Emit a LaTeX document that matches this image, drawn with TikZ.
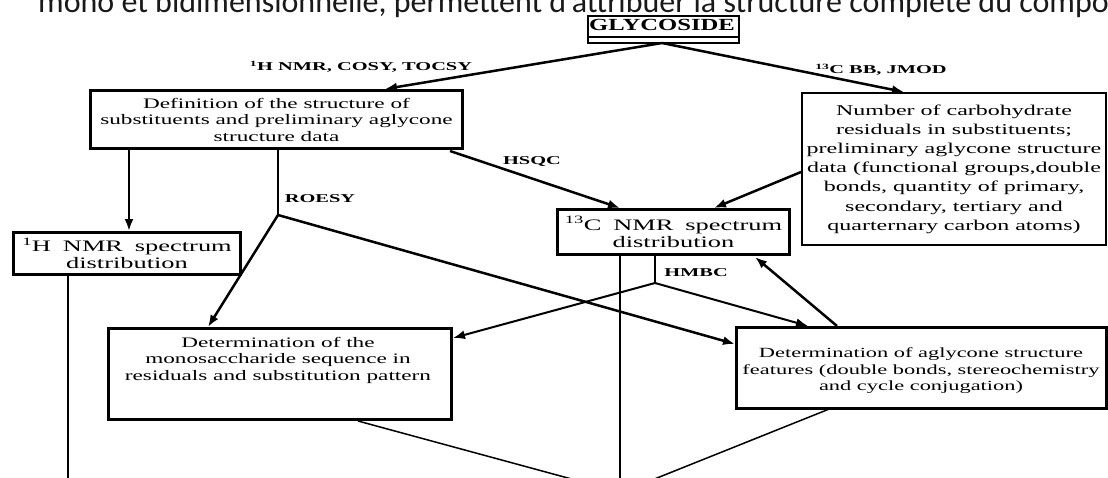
\documentclass[tikz,border=0pt]{standalone}
\usepackage{fontspec}
\setmainfont{Liberation Serif}
\newfontfamily\df[FakeStretch=1.6]{Liberation Serif}
\newfontfamily\dfc[FakeStretch=1.65,WordSpace=1.8]{Liberation Serif}
\newfontfamily\dfb[FakeStretch=1.7]{Liberation Serif}
\newfontfamily\gfont[FakeStretch=1.45]{Liberation Serif}
\newfontfamily\topfont{Carlito}
\usetikzlibrary{arrows.meta,calc}
\tikzset{
  box/.style={draw, line width=3pt, inner sep=0pt, anchor=north west},
  txt/.style={font=\df\fontsize{14.5}{16.5}\selectfont, align=center},
  txta/.style={font=\df\fontsize{14}{16.5}\selectfont, align=center},
  txtb/.style={font=\df\fontsize{15}{19.2}\selectfont, align=center},
  txtc/.style={font=\dfc\fontsize{16}{17}\selectfont, align=center},
  lab/.style={font=\dfb\bfseries\fontsize{12}{14}\selectfont, inner sep=0pt},
  arr/.style={line width=2.5pt, -{Latex[length=12pt,width=9pt]}},
  ln/.style={line width=2.5pt},
  thin/.style={line width=1.5pt, -{Latex[length=8pt,width=6pt]}}
}
\begin{document}
\begin{tikzpicture}[x=1pt,y=-1pt]
\useasboundingbox (0,0) rectangle (1108,477);
\clip (0,0) rectangle (1108,477);
\fill[white] (0,0) rectangle (1108,477);

% cut-off text line at the top
\node[anchor=base west, font=\topfont\fontsize{32}{32}\selectfont, inner sep=0pt, text=black!90] (toptext) at (38,12)
  {mono et bidimensionnelle, permettent d’attribuer la structure complète du composé};

% GLYCOSIDE
\node[box, fill=white, line width=2pt, minimum width=151pt, minimum height=27pt] (gly) at (587,15) {};
\node[font=\gfont\bfseries\fontsize{17}{17}\selectfont, inner sep=0pt] (glyt) at (662,25) {GLYCOSIDE};
\draw[line width=1.5pt] ($(gly.south west)+(0,-7)$) -- ($(gly.south east)+(0,-7)$);
\coordinate (glyb) at (662,43);

% boxes
\node[box, txt, minimum width=372pt, minimum height=58pt] (def) at (89,89)
  {Definition of the structure of\\substituents and preliminary aglycone\\structure data};
\node[box, txtb, line width=2pt, minimum width=304pt, minimum height=152pt] (num) at (801,92)
  {Number of carbohydrate\\residuals in substituents;\\preliminary aglycone structure\\data (functional groups,double\\bonds, quantity of primary,\\secondary, tertiary and\\quarternary carbon atoms)};
\node[box, txtc, minimum width=232pt, minimum height=45pt] (c13) at (556,208)
  {\textsuperscript{13}C NMR spectrum\\distribution};
\node[box, txtc, minimum width=227pt, minimum height=42pt] (h1) at (12,231)
  {\textsuperscript{1}H NMR spectrum\\distribution};
\node[box, minimum width=343pt, minimum height=91pt] (seq) at (107,327) {};
\node[txt, anchor=north, inner sep=0pt] (seqt) at (278,337)
  {Determination of the\\monosaccharide sequence in\\residuals and substitution pattern};
\node[box, line width=2.5pt, minimum width=370pt, minimum height=81pt] (agl) at (735,326) {};
\node[txta, inner sep=0pt] (aglt) at (921,371)
  {Determination of aglycone structure\\features (double bonds, stereochemistry\\and cycle conjugation)};

% labels
\node[lab] (l1) at (361,67) {\textsuperscript{1}H NMR, COSY, TOCSY};
\node[lab] (l2) at (881,70) {\textsuperscript{13}C BB, JMOD};
\node[lab] (l3) at (320,199) {ROESY};
\node[lab] (l4) at (532,161) {HSQC};
\node[lab] (l5) at (696,273) {HMBC};

% junctions
\coordinate (roesy) at (278,215);
\coordinate (hmbc) at (655,283);

% connectors
\draw[arr] (glyb) -- ($(def.north west)+(296,0)$);
\draw[arr] (glyb) -- ($(num.north west)+(103,0)$);
\draw[arr] ($(def.south west)+(40,0)$) -- ($(h1.north west)+(117,0)$);
\draw[ln] ($(def.south west)+(189,0)$) -- (roesy);
\draw[arr] (roesy) -- ($(seq.north west)+(101,0)$);
\draw[arr] (roesy) -- ($(agl.north west)+(0,18)$);
\draw[arr] ($(def.south east)+(-14,1)$) -- ($(c13.north west)+(64,0)$);
\draw[arr] ($(num.north west)+(0,80)$) -- ($(c13.north west)+(158,0)$);
\draw[ln] ($(c13.south west)+(99,0)$) -- (hmbc);
\draw[arr, line width=2pt] (hmbc) -- ($(seq.north east)+(0,11)$);
\draw[arr, line width=2pt] (hmbc) -- ($(agl.north west)+(73,0)$);
\draw[arr] ($(agl.north west)+(102,0)$) -- ($(c13.south west)+(199,1)$);
\draw[thin] ($(c13.south west)+(64,0)$) -- (620,486);
\draw[line width=2pt] ($(h1.south west)+(56,0)$) -- (68,480);
\draw[thin] ($(seq.south west)+(251,0)$) -- (590,484);
\draw[thin] ($(agl.south west)+(93,0)$) -- (642,484);
\end{tikzpicture}
\end{document}
